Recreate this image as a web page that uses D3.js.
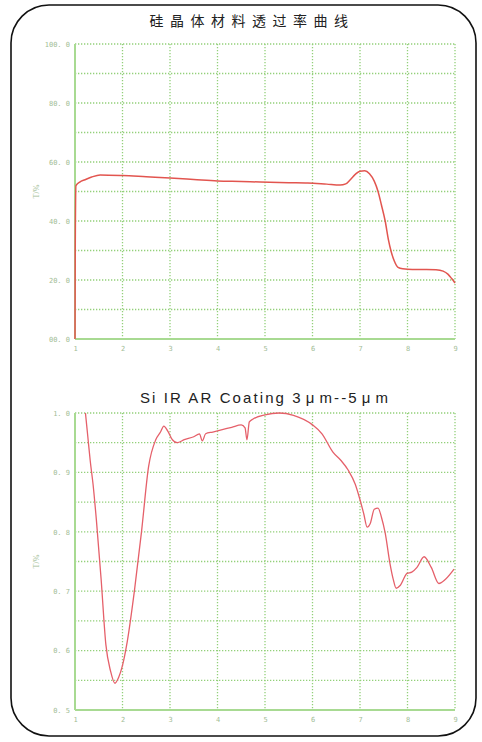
<!DOCTYPE html>
<html lang="zh">
  <head>
    <meta charset="UTF-8">
    <title>硅晶体材料透过率曲线</title>
    <style>
      body { margin: 0; background: #fff; }
      svg { display: block; }
    </style>
    <script src="https://d3js.org/d3.v7.min.js"></script>
  </head>
  <body>
    <script>
      // transmission of bare silicon, %
      var topX = [1.0, 1.005, 1.02, 1.1, 1.21, 1.35, 1.53, 2.0, 2.5, 3.0,
                  3.5, 4.0, 4.5, 4.9, 5.5, 5.9, 6.3, 6.58, 6.7, 6.79,
                  6.9, 7.0, 7.1, 7.2, 7.3, 7.38, 7.45, 7.53, 7.6, 7.65,
                  7.72, 7.8, 7.9, 8.1, 8.4, 8.6, 8.75, 8.85, 8.93, 9.0];
      var topT = [0, 30, 52, 53.2, 54, 54.9, 55.6, 55.4, 55, 54.6,
                  54.1, 53.6, 53.4, 53.2, 53, 52.9, 52.5, 52.2, 52.6, 53.9,
                  55.8, 56.9, 57, 56, 53.5, 50, 45.5, 40, 33.5, 30,
                  26.5, 24.3, 23.8, 23.6, 23.6, 23.5, 23, 22, 20.5, 19];

      // AR coated silicon, 3um - 5um
      var botX = [1.22, 1.27, 1.32, 1.38, 1.45, 1.55, 1.65, 1.75, 1.84, 1.92,
                  2.0, 2.1, 2.25, 2.4, 2.55, 2.7, 2.8, 2.87, 2.95, 3.05,
                  3.15, 3.3, 3.5, 3.62, 3.68, 3.75, 3.9, 4.1, 4.3, 4.5,
                  4.58, 4.62, 4.67, 4.75, 5.0, 5.3, 5.6, 6.0, 6.2, 6.43,
                  6.6, 6.75, 6.9, 7.0, 7.08, 7.15, 7.22, 7.3, 7.38, 7.45,
                  7.53, 7.63, 7.7, 7.76, 7.85, 7.99, 8.09, 8.2, 8.35, 8.5,
                  8.66, 8.8, 8.98];
      var botT = [1.0, 0.96, 0.92, 0.88, 0.82, 0.72, 0.61, 0.565, 0.545, 0.555,
                  0.575, 0.615, 0.7, 0.8, 0.91, 0.955, 0.968, 0.978, 0.97, 0.955,
                  0.95, 0.955, 0.96, 0.965, 0.953, 0.965, 0.968, 0.972, 0.976, 0.98,
                  0.975, 0.955, 0.985, 0.99, 0.997, 1.0, 0.996, 0.98, 0.965, 0.934,
                  0.92, 0.904, 0.88, 0.854, 0.83, 0.808, 0.815, 0.838, 0.84, 0.825,
                  0.798, 0.747, 0.72, 0.705, 0.71, 0.73, 0.732, 0.74, 0.758, 0.74,
                  0.713, 0.72, 0.737];

      var xTicks = [1, 2, 3, 4, 5, 6, 7, 8, 9];
      var topYTicks = [0, 20, 40, 60, 80, 100];
      var topYLabels = ["00. 0", "20. 0", "40. 0", "60. 0", "80. 0", "100. 0"];
      var topGrid = [10, 20, 30, 40, 50, 60, 70, 80, 90, 100];
      var botYTicks = [0.5, 0.6, 0.7, 0.8, 0.9, 1.0];
      var botYLabels = ["0. 5", "0. 6", "0. 7", "0. 8", "0. 9", "1. 0"];
      var botGrid = [0.55, 0.6, 0.65, 0.7, 0.75, 0.8, 0.85, 0.9, 0.95, 1.0];

      var W = 482, H = 742;
      var gridColor = "#93d07a";
      var axisColor = "#a8da92";
      var labelColor = "#a2bd96";

      var svg = d3.select("body").append("svg")
        .attr("width", W)
        .attr("height", H);

      svg.append("rect")
        .attr("x", 11).attr("y", 5)
        .attr("width", 465).attr("height", 731)
        .attr("rx", 38).attr("ry", 38)
        .attr("fill", "none")
        .attr("stroke", "#111")
        .attr("stroke-width", 1.6);

      function panel(opt) {
        var x = d3.scaleLinear().domain([1, 9]).range([opt.left, opt.right]);
        var y = d3.scaleLinear().domain(opt.yDomain).range([opt.bottom, opt.top]);
        var g = svg.append("g");

        // title, the mu signs get a little room on each side like the original
        var t = g.append("text")
          .attr("x", opt.titleX).attr("y", opt.titleY)
          .attr("text-anchor", "middle")
          .style("font-family", opt.titleFont)
          .style("font-size", opt.titleSize)
          .style("letter-spacing", opt.spacing)
          .attr("fill", "#222");
        opt.title.split(/(μ)/).forEach(function (s) {
          if (!s) return;
          t.append("tspan").attr("dx", s === "μ" ? 3 : (t.selectAll("tspan").size() ? 3 : 0)).text(s);
        });

        // dotted grid
        g.selectAll(".hg").data(opt.grid).enter().append("line")
          .attr("x1", opt.left).attr("x2", opt.right)
          .attr("y1", function (d) { return y(d); })
          .attr("y2", function (d) { return y(d); })
          .attr("stroke", gridColor)
          .attr("stroke-width", 1.3)
          .attr("stroke-dasharray", "1.3,1.7");
        g.selectAll(".vg").data(xTicks.slice(1)).enter().append("line")
          .attr("y1", opt.top).attr("y2", opt.bottom)
          .attr("x1", function (d) { return x(d); })
          .attr("x2", function (d) { return x(d); })
          .attr("stroke", gridColor)
          .attr("stroke-width", 1.3)
          .attr("stroke-dasharray", "1.3,1.7");

        // solid axes
        g.append("line")
          .attr("x1", opt.left).attr("x2", opt.left)
          .attr("y1", opt.top).attr("y2", opt.bottom)
          .attr("stroke", axisColor).attr("stroke-width", 2);
        g.append("line")
          .attr("x1", opt.left).attr("x2", opt.right)
          .attr("y1", opt.bottom).attr("y2", opt.bottom)
          .attr("stroke", axisColor).attr("stroke-width", 2);

        var yAxis = d3.axisLeft(y).tickValues(opt.yTicks).tickSize(0).tickPadding(5)
          .tickFormat(function (d, i) { return opt.yLabels[i]; });
        var ya = g.append("g").attr("transform", "translate(" + opt.left + ",0)").call(yAxis);
        ya.select(".domain").remove();
        ya.selectAll("text")
          .style("font-family", "DejaVu Sans Mono")
          .style("font-size", "7px")
          .attr("fill", labelColor);

        var xAxis = d3.axisBottom(x).tickValues(xTicks).tickSize(0).tickPadding(7)
          .tickFormat(d3.format("d"));
        var xa = g.append("g").attr("transform", "translate(0," + opt.bottom + ")").call(xAxis);
        xa.select(".domain").remove();
        xa.selectAll("text")
          .style("font-family", "DejaVu Sans Mono")
          .style("font-size", "7px")
          .attr("fill", labelColor);

        g.append("text")
          .attr("transform", "translate(39," + ((opt.top + opt.bottom) / 2) + ") rotate(-90)")
          .attr("text-anchor", "middle")
          .style("font-family", "Liberation Serif")
          .style("font-size", "8px")
          .attr("fill", labelColor)
          .text("T/%");

        var pts = d3.zip(opt.xs, opt.ys);
        var line = d3.line()
          .x(function (d) { return x(d[0]); })
          .y(function (d) { return y(d[1]); })
          .curve(d3.curveMonotoneX);
        g.append("path")
          .datum(pts)
          .attr("d", line)
          .attr("fill", "none")
          .attr("stroke", opt.lineColor)
          .attr("stroke-width", opt.lineWidth);
      }

      panel({
        title: "硅晶体材料透过率曲线", titleX: 249, titleY: 26,
        titleFont: "Noto Sans CJK SC", titleSize: "14px", spacing: "6.5px",
        left: 75, right: 455, top: 44, bottom: 339,
        yDomain: [0, 100], yTicks: topYTicks, yLabels: topYLabels, grid: topGrid,
        xs: topX, ys: topT, lineColor: "#e2554f", lineWidth: 1.5
      });

      panel({
        title: "Si IR AR Coating 3μm--5μm", titleX: 262, titleY: 403,
        titleFont: "Liberation Sans", titleSize: "15px", spacing: "2.1px",
        left: 75, right: 455, top: 413, bottom: 710,
        yDomain: [0.5, 1.0], yTicks: botYTicks, yLabels: botYLabels, grid: botGrid,
        xs: botX, ys: botT, lineColor: "#e5606a", lineWidth: 1.3
      });
    </script>
  </body>
</html>
